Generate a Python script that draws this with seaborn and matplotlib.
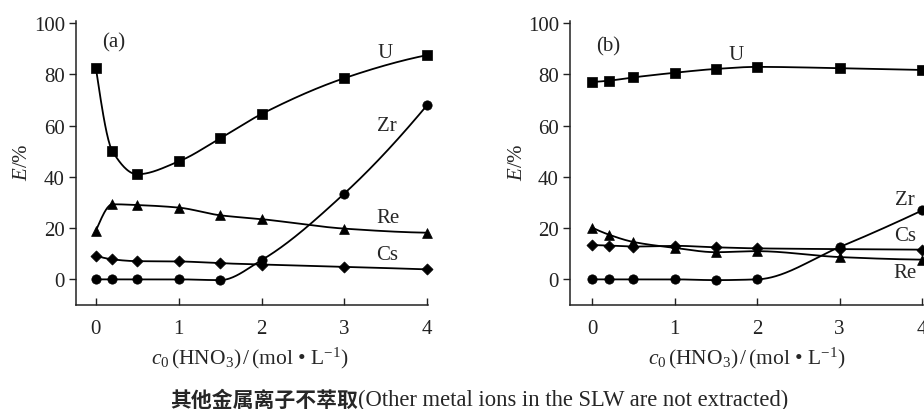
import numpy as np
import pandas as pd
import matplotlib
matplotlib.use("Agg")
import matplotlib.pyplot as plt
import seaborn as sns

# ---- data ----
conc = [0, 0.2, 0.5, 1, 1.5, 2, 3, 4]

a_U = [82.5, 50, 41, 46, 55, 64.5, 78.5, 87.5]
a_Zr = [0, 0, 0, 0, -0.3, 7.5, 33.5, 68]
a_Re = [19, 29.3, 29, 28, 25, 23.5, 19.8, 18.2]
a_Cs = [9.2, 7.8, 7.1, 7.0, 6.3, 5.8, 4.9, 3.9]

b_U = [77, 77.5, 78.8, 80.6, 82.1, 82.9, 82.4, 81.7]
b_Zr = [0, 0, 0, 0, -0.3, 0, 12.6, 26.9]
b_Re = [20.2, 17.5, 14.6, 12.3, 10.6, 11, 8.7, 7.7]
b_Cs = [13.4, 13.2, 12.8, 13.1, 12.5, 12.1, 11.8, 11.6]

y_ticks = [0, 20, 40, 60, 80, 100]
x_ticks = [0, 1, 2, 3, 4]

sns.set_theme(style="ticks")
plt.rcParams["font.family"] = ["Liberation Serif", "Noto Sans CJK SC"]
plt.rcParams["mathtext.fontset"] = "custom"
plt.rcParams["mathtext.rm"] = "Liberation Serif"
plt.rcParams["mathtext.it"] = "Liberation Serif:italic"


def pchip(x, y, xs):
    x = np.asarray(x, float); y = np.asarray(y, float)
    h = np.diff(x); d = np.diff(y) / h
    n = len(x); m = np.zeros(n)
    for k in range(1, n - 1):
        if d[k - 1] * d[k] > 0:
            w1 = 2 * h[k] + h[k - 1]; w2 = h[k] + 2 * h[k - 1]
            m[k] = (w1 + w2) / (w1 / d[k - 1] + w2 / d[k])
    def endslope(h0, h1, d0, d1):
        s = ((2 * h0 + h1) * d0 - h0 * d1) / (h0 + h1)
        if np.sign(s) != np.sign(d0):
            s = 0.0
        elif np.sign(d0) != np.sign(d1) and abs(s) > abs(3 * d0):
            s = 3 * d0
        return s
    m[0] = endslope(h[0], h[1], d[0], d[1])
    m[-1] = endslope(h[-1], h[-2], d[-1], d[-2])
    idx = np.clip(np.searchsorted(x, xs) - 1, 0, n - 2)
    t = (xs - x[idx]) / h[idx]
    h00 = 2 * t**3 - 3 * t**2 + 1; h10 = t**3 - 2 * t**2 + t
    h01 = -2 * t**3 + 3 * t**2; h11 = t**3 - t**2
    return h00 * y[idx] + h10 * h[idx] * m[idx] + h01 * y[idx + 1] + h11 * h[idx] * m[idx + 1]


fig = plt.figure(figsize=(9.24, 4.10), dpi=100)
axL = fig.add_axes([76 / 924, 104 / 410, 352 / 924, 284 / 410])
axR = fig.add_axes([570 / 924, 104 / 410, 353 / 924, 284 / 410])

markers = {"U": "s", "Zr": "o", "Re": "^", "Cs": "D"}
msizes = {"U": 42, "Zr": 45, "Re": 50, "Cs": 32}

panels = [
    (axL, {"U": a_U, "Zr": a_Zr, "Re": a_Re, "Cs": a_Cs}, (-0.24, 4.01),
     "(a)", (0.21, 92.5),
     {"U": (3.49, 88.6), "Zr": (3.51, 60), "Re": (3.53, 24), "Cs": (3.52, 9.7)}),
    (axR, {"U": b_U, "Zr": b_Zr, "Re": b_Re, "Cs": b_Cs}, (-0.267, 4.01),
     "(b)", (0.20, 91),
     {"U": (1.75, 87.9), "Zr": (3.79, 31), "Re": (3.79, 2.7), "Cs": (3.79, 17)}),
]

xs = np.linspace(0, 4, 400)
for ax, series, xlim, tag, tagpos, labpos in panels:
    for name, vals in series.items():
        curve = pd.DataFrame({"x": xs, "y": pchip(conc, vals, xs)})
        sns.lineplot(data=curve, x="x", y="y", ax=ax, color="black", lw=1.3,
                     clip_on=False)
        pts = pd.DataFrame({"x": conc, "y": vals})
        sns.scatterplot(data=pts, x="x", y="y", ax=ax, color="black",
                        marker=markers[name], s=msizes[name], edgecolor="black",
                        linewidth=0.5, zorder=5, clip_on=False)
        ax.text(*labpos[name], name, ha="center", va="center", fontsize=15)
    ax.text(*tagpos, tag, ha="center", va="center", fontsize=15)
    ax.set_xlim(*xlim)
    ax.set_ylim(-10, 100.8)
    ax.set_xticks(x_ticks)
    ax.set_yticks(y_ticks)
    ax.tick_params(axis="y", direction="out", length=5, width=1, labelsize=15,
                   pad=3, colors="#222222")
    ax.tick_params(axis="x", direction="in", length=5, width=1, labelsize=15,
                   pad=10, colors="#222222")
    sns.despine(ax=ax)
    for sp in ("left", "bottom"):
        ax.spines[sp].set_linewidth(1.1)
        ax.spines[sp].set_color("#222222")
    ax.set_xlabel(r"$c_0\,$(HNO$_3$)$\,$/$\,$(mol • L$^{-1}$)", fontsize=15.5)
    ax.set_ylabel(r"$E$/%", fontsize=15)

axL.yaxis.set_label_coords(-0.125, 0.505)
axR.yaxis.set_label_coords(-0.122, 0.505)
axL.xaxis.set_label_coords(0.494, -0.14)
axR.xaxis.set_label_coords(0.50, -0.14)

fig.text(358 / 924, 1 - 400 / 410, "其他金属离子不萃取", ha="right", va="center",
         fontsize=15, fontweight="bold", family=["Noto Sans CJK SC"])
fig.text(358 / 924, 1 - 400 / 410, "(Other metal ions in the SLW are not extracted)",
         ha="left", va="center", fontsize=16.3, family=["Liberation Serif"])

fig.savefig("out.png", dpi=100, facecolor="white")
